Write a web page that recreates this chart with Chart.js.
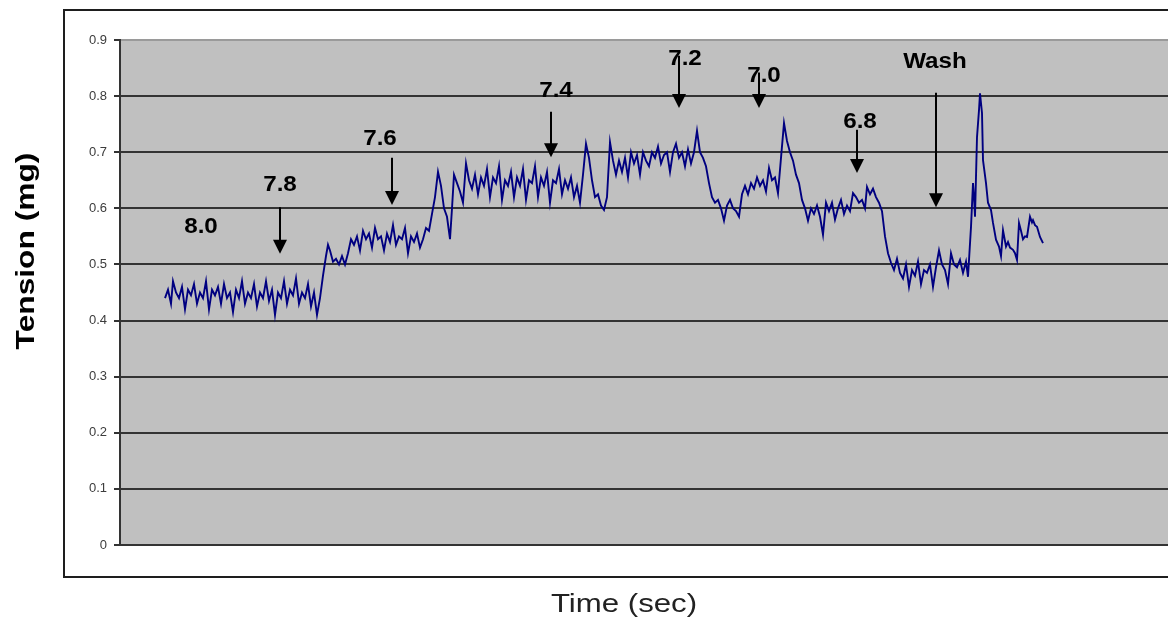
<!DOCTYPE html>
<html>
<head>
<meta charset="utf-8">
<script src="https://cdn.jsdelivr.net/npm/chart.js@4.4.1/dist/chart.umd.min.js"></script>
<style>
  html, body { margin: 0; padding: 0; background: #fff; }
  #wrap { width: 1168px; height: 618px; }
</style>
</head>
<body>
<div id="wrap"><canvas id="tensionChart" width="1168" height="618"></canvas></div>
<script>
// ==================== DATA ====================
// time (sec, arbitrary origin) and tension (mg)
const timeSec = [
  // baseline
  45,48,51,53,56,59,62,65,68,71,74,77,80,83,86,89,92,95,98,101,104,107,110,113,116,119,122,125,128,131,134,137,140,143,146,149,152,155,158,161,164,167,170,173,176,179,182,185,188,191,194,197,200,
  // 7.8 -> 7.6
  203,206,208,210,213,216,219,222,225,228,231,234,237,240,243,246,249,252,255,258,261,264,267,270,273,276,279,282,285,288,291,294,297,300,303,306,309,312,315,318,321,324,327,330,332,334,337,340,
  // 7.6 -> 7.4
  343,346,349,352,355,358,361,364,367,370,373,376,379,382,385,388,391,394,397,400,403,406,409,412,415,418,421,424,427,430,433,436,439,442,445,448,451,454,457,460,463,466,469,472,475,478,481,484,487,490,493,496,
  // 7.2 / 7.0
  499,502,505,508,511,514,517,520,523,526,529,532,535,538,541,544,547,550,553,556,559,562,565,568,571,574,577,580,583,586,589,592,595,598,601,604,607,610,613,616,619,622,625,628,631,634,637,640,643,646,649,652,655,658,661,664,667,670,673,676,679,682,685,688,691,
  // 6.8
  694,697,700,703,706,709,712,715,718,721,724,727,730,733,736,739,742,745,747,750,753,756,759,762,765,768,771,
  // wash
  774,777,780,783,786,789,792,795,798,801,804,807,810,813,816,819,822,825,828,831,834,837,840,843,846,848,851,853,854,855,857,859,860,862,863,866,868,871,873,876,879,881,883,886,888,890,893,895,897,899,901,903,905,907,910,912,913,915,917,920,923
];
const tensionMg = [
  .44,.455,.43,.47,.45,.44,.46,.42,.455,.445,.465,.43,.45,.44,.47,.42,.455,.445,.46,.43,.465,.44,.45,.415,.455,.44,.47,.43,.45,.44,.465,.425,.45,.44,.47,.435,.455,.41,.45,.44,.47,.43,.455,.445,.475,.43,.45,.44,.465,.425,.45,.41,.44,
  .48,.515,.535,.525,.505,.51,.50,.515,.50,.52,.545,.535,.55,.525,.56,.545,.555,.53,.565,.545,.55,.525,.555,.54,.57,.535,.55,.545,.565,.52,.55,.54,.555,.53,.545,.565,.56,.59,.62,.665,.64,.60,.585,.545,.60,.66,.645,.63,
  .61,.68,.65,.635,.66,.625,.655,.64,.67,.62,.655,.645,.675,.615,.65,.64,.665,.62,.655,.64,.67,.615,.65,.645,.675,.62,.655,.64,.665,.61,.65,.645,.67,.625,.65,.635,.655,.62,.64,.61,.66,.715,.69,.65,.62,.625,.605,.597,.62,.718,.685,.66,
  .685,.665,.69,.655,.70,.68,.695,.66,.70,.685,.675,.70,.69,.71,.68,.695,.70,.665,.70,.715,.69,.70,.675,.705,.68,.70,.738,.70,.69,.675,.645,.62,.61,.615,.60,.578,.605,.615,.60,.595,.585,.625,.64,.625,.645,.635,.655,.64,.65,.63,.672,.65,.655,.627,.69,.752,.72,.70,.685,.66,.645,.615,.60,.578,.60,
  .59,.605,.585,.553,.61,.595,.61,.58,.60,.615,.59,.605,.595,.627,.62,.61,.615,.60,.638,.625,.635,.62,.61,.595,.55,.52,.503,
  .49,.51,.485,.475,.50,.46,.49,.48,.505,.465,.49,.485,.50,.46,.495,.525,.50,.49,.465,.52,.50,.495,.508,.485,.505,.478,.567,.645,.62,.585,.727,.775,.805,.77,.686,.645,.61,.597,.574,.544,.532,.515,.561,.532,.54,.53,.526,.52,.508,.574,.56,.545,.55,.549,.585,.575,.579,.57,.567,.549,.538
];
const yTicks = { min: 0, max: 0.9, step: 0.1 };
const timeRange = [0, 1048];

// concentration labels with their arrows (time, value in mg)
const noteLabels   = ['8.0', '7.8', '7.6', '7.4', '7.2', '7.0', '6.8', 'Wash'];
const noteTextTime = [81, 160, 260, 436, 565, 644, 740, 815];
const noteTextVal  = [0.567, 0.642, 0.724, 0.809, 0.866, 0.836, 0.754, 0.861];
const arrowTime    = [null, 160, 272, 431, 559, 639, 737, 816];
const arrowFrom    = [null, 0.602, 0.690, 0.772, 0.872, 0.842, 0.740, 0.806];
const arrowTo      = [null, 0.519, 0.606, 0.691, 0.779, 0.779, 0.663, 0.602];

// ==================== PLUGINS ====================
const frameAndNotes = {
    id: 'frameAndNotes',
    beforeDraw(chart) {
        const { ctx, chartArea: a } = chart;
        ctx.save();
        ctx.fillStyle = '#c0c0c0';
        ctx.fillRect(a.left, a.top, a.right - a.left, a.bottom - a.top);
        // outer frame (runs off the right edge)
        ctx.strokeStyle = '#1e1e1e';
        ctx.lineWidth = 2;
        ctx.beginPath();
        ctx.moveTo(1170, 10); ctx.lineTo(64, 10); ctx.lineTo(64, 577); ctx.lineTo(1170, 577);
        ctx.stroke();
        ctx.restore();
    },
    afterDraw(chart) {
        const { ctx, scales: { x, y } } = chart;
        ctx.save();
        ctx.fillStyle = '#000';
        ctx.strokeStyle = '#000';
        ctx.lineWidth = 2;
        ctx.textAlign = 'center';
        ctx.textBaseline = 'middle';
        noteLabels.forEach((lbl, i) => {
            const tx = x.getPixelForValue(noteTextTime[i]);
            const ty = y.getPixelForValue(noteTextVal[i]);
            ctx.save();
            ctx.translate(tx, ty);
            ctx.scale(1.1, 1);
            ctx.font = 'bold 22px "Liberation Sans", Arial, sans-serif';
            ctx.fillText(lbl, 0, 0);
            ctx.restore();
            if (arrowTime[i] == null) return;
            const ax = Math.round(x.getPixelForValue(arrowTime[i]));
            const y0 = y.getPixelForValue(arrowFrom[i]);
            const y1 = y.getPixelForValue(arrowTo[i]);
            ctx.beginPath();
            ctx.moveTo(ax, y0); ctx.lineTo(ax, y1 - 10);
            ctx.stroke();
            ctx.beginPath();
            ctx.moveTo(ax - 7, y1 - 14); ctx.lineTo(ax + 7, y1 - 14); ctx.lineTo(ax, y1);
            ctx.closePath();
            ctx.fill();
        });
        // axis titles
        ctx.save();
        ctx.translate(27, 251);
        ctx.rotate(-Math.PI / 2);
        ctx.scale(1.22, 1);
        ctx.font = 'bold 26px "Liberation Sans", Arial, sans-serif';
        ctx.fillText('Tension (mg)', 0, 0);
        ctx.restore();
        ctx.save();
        ctx.translate(624, 605);
        ctx.scale(1.2, 1);
        ctx.font = '26px "Liberation Sans", Arial, sans-serif';
        ctx.fillStyle = '#222';
        ctx.fillText('Time (sec)', 0, 0);
        ctx.restore();
        ctx.restore();
    }
};

// ==================== CHART ====================
const tensionCtx = document.getElementById('tensionChart').getContext('2d');
const tensionChart = new Chart(tensionCtx, {
    type: 'line',
    data: {
        datasets: [{
            data: timeSec.map((t, i) => ({ x: t, y: tensionMg[i] })),
            borderColor: '#000080',
            borderWidth: 1.9,
            pointRadius: 0,
            tension: 0,
            fill: false
        }]
    },
    options: {
        responsive: false,
        animation: false,
        layout: { padding: { left: 0, top: 40, right: 0, bottom: 73 } },
        plugins: { legend: { display: false }, tooltip: { enabled: false } },
        scales: {
            x: { type: 'linear', display: false, min: timeRange[0], max: timeRange[1] },
            y: {
                min: yTicks.min, max: yTicks.max,
                afterFit: axis => { axis.width = 120; },
                ticks: {
                    stepSize: yTicks.step,
                    padding: 7,
                    color: '#3c3c3c',
                    font: { family: '"Liberation Sans", Arial, sans-serif', size: 13 }
                },
                grid: {
                    color: c => Math.abs(c.tick.value - yTicks.max) < 1e-6 ? '#9a9a9a' : '#333',
                    tickColor: '#333',
                    lineWidth: 2,
                    tickLength: 6
                },
                border: { color: '#333', width: 2 }
            }
        }
    },
    plugins: [frameAndNotes]
});
</script>
</body>
</html>
